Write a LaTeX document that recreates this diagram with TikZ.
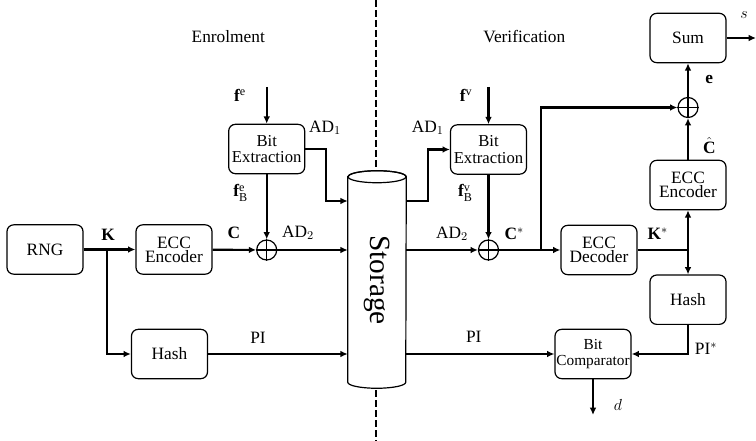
\documentclass[tikz,border=0pt]{standalone}
\usepackage{fontspec}
\setmainfont{Liberation Serif}
\usepackage{tikz}
\usetikzlibrary{positioning,calc,arrows.meta}

\tikzset{
  blk/.style={draw, rounded corners=5pt, line width=0.9pt, minimum width=57pt, minimum height=37pt, inner sep=0pt, align=center, font=\fontsize{13}{10.5}\selectfont},
  bitblk/.style={blk, font=\fontsize{12.5}{12.5}\selectfont},
  cmpblk/.style={blk, font=\fontsize{11.5}{12}\selectfont},
  xor/.style={draw, circle, line width=0.9pt, minimum size=15pt, inner sep=0pt},
  lbl/.style={inner sep=0pt, font=\fontsize{13}{15}\selectfont},
  conn/.style={line width=1.6pt, -{Latex[length=5.5pt,width=5pt]}},
  wire/.style={line width=1.6pt},
}

\begin{document}
\begin{tikzpicture}[x=0.75pt, y=-0.75pt]
    \useasboundingbox (0,0) rectangle (756,441);

    % Dividing line
    \coordinate (divTop) at (376,0);
    \coordinate (divBot) at (376,441);
    \draw[line width=1.7pt, dash pattern=on 5pt off 2.5pt] (divTop) -- (divBot);

    % Storage
    \node[minimum width=43.5pt, minimum height=153.75pt, inner sep=0pt] (store) at (377,279.5) {};
    \draw[fill=white, line width=0.9pt] (store.north west) -- (store.south west)
        arc[start angle=180, end angle=0, x radius=29, y radius=6]
        -- (store.north east) arc[start angle=0, end angle=-180, x radius=29, y radius=6] -- cycle;
    \draw[line width=0.9pt] (store.north) ellipse[x radius=29, y radius=6];
    \node[rotate=-90, font=\fontsize{22}{22}\selectfont] (storeTxt) at (377,280) {Storage};

    % Enrolment blocks
    \node[blk] (rng) at (45,249.5) {RNG};
    \node[blk] (encL) at (174,249.5) {ECC\\Encoder};
    \node[blk] (hashL) at (169.5,354) {Hash};
    \node[bitblk] (bitL) at (266.7,149) {Bit\\Extraction};
    \node[xor] (xorL) at (266.7,250) {};

    % Verification blocks
    \node[bitblk] (bitR) at (488.5,149.5) {Bit\\Extraction};
    \node[xor] (xorR) at (488.5,250) {};
    \node[blk] (decR) at (599,250) {ECC\\Decoder};
    \node[blk] (hashR) at (688,299.7) {Hash};
    \node[cmpblk] (cmp) at (593,354) {Bit\\Comparator};
    \node[blk] (encR) at (688,185) {ECC\\Encoder};
    \node[xor] (xorT) at (688,107.5) {};
    \node[blk] (sum) at (688,38) {Sum};

    % Plus signs
    \foreach \n in {xorL,xorR,xorT}
        \draw[line width=0.9pt] (\n.north) -- (\n.south) (\n.west) -- (\n.east);

    % Free ends
    \coordinate (fe) at (266.7,87);
    \coordinate (fv) at (488.5,87);
    \coordinate (kb) at (107,249.5);
    \coordinate (ad1L) at (326,201);
    \coordinate (ad1R) at (428,201);
    \coordinate (cb) at (541,250);
    \coordinate (kb2) at (688,250);
    \coordinate (sOut) at (756,38);
    \coordinate (dOut) at (593,415);

    % Enrolment connectors
    \draw[conn] (rng) -- (encL);
    \draw[conn] (kb) |- (hashL.west);
    \draw[conn] (encL) -- (xorL);
    \draw[conn] (fe) -- (bitL);
    \draw[conn] (bitL) -- (xorL);
    \draw[conn] (xorL) -- (store.west |- xorL);
    \draw[conn] (bitL.east) -| (ad1L) -- (store.west |- ad1L);
    \draw[conn] (hashL) -- (store.west |- hashL);

    % Verification connectors
    \draw[conn] (store.east |- ad1R) -- (ad1R) |- (bitR.west);
    \draw[conn] (fv) -- (bitR);
    \draw[conn] (bitR) -- (xorR);
    \draw[conn] (store.east |- xorR) -- (xorR);
    \draw[conn] (xorR) -- (decR);
    \draw[conn] (cb) |- (xorT.west);
    \draw[wire] (decR.east) -- (kb2);
    \draw[conn] (kb2) -- (encR);
    \draw[conn] (kb2) -- (hashR);
    \draw[conn] (encR) -- (xorT);
    \draw[conn] (xorT) -- (sum);
    \draw[conn] (sum) -- (sOut);
    \draw[conn] (hashR.south) |- (cmp.east);
    \draw[conn] (store.east |- cmp) -- (cmp);
    \draw[conn] (cmp) -- (dOut);

    % Labels
    \node[lbl] (tEnr) at (228.3,36.7) {Enrolment};
    \node[lbl] (tVer) at (524.3,36.7) {Verification};
    \node[lbl] (lfe) at (240,95) {$\mathbf{f}^{\mathrm{e}}$};
    \node[lbl] (lfBe) at (240.7,193) {$\mathbf{f}^{\mathrm{e}}_{\mathrm{B}}$};
    \node[lbl] (ladL) at (325,128) {AD$_1$};
    \node[lbl] (lK) at (108,235) {$\mathbf{K}$};
    \node[lbl] (lC) at (234,233) {$\mathbf{C}$};
    \node[lbl] (ladL2) at (298,233) {AD$_2$};
    \node[lbl] (lpiL) at (258,338) {PI};
    \node[lbl] (ladR) at (427.7,128) {AD$_1$};
    \node[lbl] (lfv) at (466,95) {$\mathbf{f}^{\mathrm{v}}$};
    \node[lbl] (lfBv) at (465.3,193) {$\mathbf{f}^{\mathrm{v}}_{\mathrm{B}}$};
    \node[lbl] (ladR2) at (452,234) {AD$_2$};
    \node[lbl] (lCs) at (514.3,234) {$\mathbf{C}^{*}$};
    \node[lbl] (lKs) at (657.7,234) {$\mathbf{K}^{*}$};
    \node[lbl] (lpiR) at (473.7,337) {PI};
    \node[lbl] (lpis) at (706,349) {PI$^{*}$};
    \node[lbl] (ld) at (618,405) {$d$};
    \node[lbl] (lCh) at (709.3,145.7) {$\hat{\mathbf{C}}$};
    \node[lbl] (le) at (709.3,80) {$\mathbf{e}$};
    \node[lbl] (ls) at (744,15) {$s$};
\end{tikzpicture}
\end{document}
